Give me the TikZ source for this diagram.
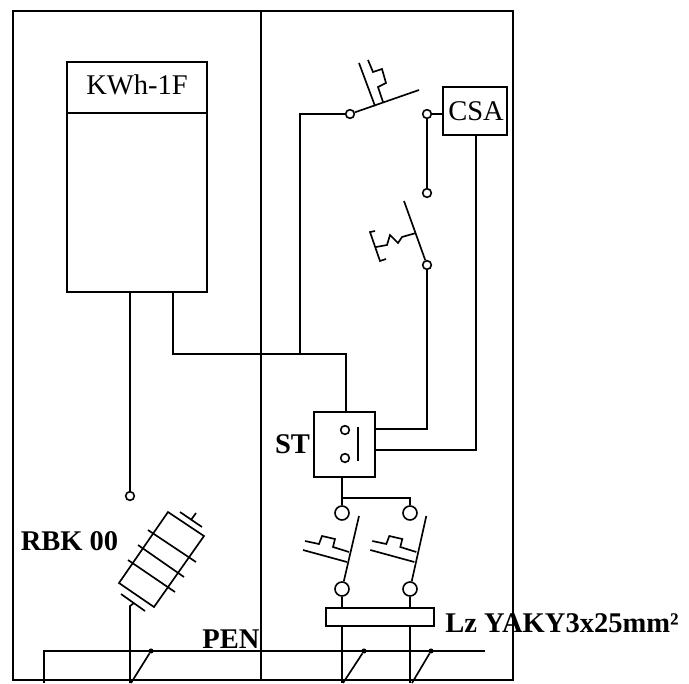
\documentclass[tikz,border=0pt]{standalone}
\usepackage{fontspec}
\setmainfont{Liberation Serif}
\tikzset{
  wire/.style={line width=1.25pt},
  thinwire/.style={line width=1.05pt},
  frameline/.style={line width=1.5pt},
  blockbox/.style={draw, line width=1.35pt, inner sep=0pt},
  smallterm/.style={circle, draw, fill=white, line width=1.2pt, inner sep=0pt, minimum size=6.5pt},
  bigterm/.style={circle, draw, fill=white, line width=1.2pt, inner sep=0pt, minimum size=10.5pt},
  dotterm/.style={circle, fill=black, inner sep=0pt, minimum size=3.8pt},
  plainlabel/.style={inner sep=0pt, anchor=base, font=\fontsize{21.4}{24}\selectfont},
  boldlabel/.style={inner sep=0pt, anchor=base, font=\fontsize{21.4}{24}\selectfont\bfseries}
}
\begin{document}
\begin{tikzpicture}[x=0.75pt, y=-0.75pt]
    \useasboundingbox (0,0) rectangle (689,683);

    % Define nodes
    \node[blockbox, minimum width=104.6pt, minimum height=37.9pt] (kwh) at (137,87.3) {};
    \node[plainlabel] (kwhtext) at (137,94) {KWh-1F};
    \node[blockbox, minimum width=104.6pt, minimum height=134.3pt] (meter) at (137,202.2) {};
    \node[blockbox, minimum width=48pt, minimum height=36pt] (csa) at (475,111) {};
    \node[plainlabel] (csatext) at (476,120) {CSA};
    \node[blockbox, minimum width=45.75pt, minimum height=48.75pt] (st) at (344.5,444.5) {};
    \node[blockbox, minimum width=81pt, minimum height=13.5pt] (lz) at (380,617) {};

    % Terminals
    \node[smallterm] (t1) at (350,114) {};
    \node[smallterm] (t2) at (427,114) {};
    \node[smallterm] (t3) at (427,193) {};
    \node[smallterm] (t4) at (427,265) {};
    \node[smallterm] (t5) at (130,496) {};
    \node[smallterm] (s1) at (345,430) {};
    \node[smallterm] (s2) at (345,458) {};
    \node[bigterm] (b1) at (342,513) {};
    \node[bigterm] (b2) at (410,513) {};
    \node[bigterm] (b3) at (342,589) {};
    \node[bigterm] (b4) at (410,589) {};
    \node[dotterm] (d1) at (151,651) {};
    \node[dotterm] (d2) at (364,651) {};
    \node[dotterm] (d3) at (431,651) {};

    % Labels
    \node[boldlabel] (rbk) at (69.5,550) {RBK 00};
    \node[boldlabel] (pen) at (231,648) {PEN};
    \node[boldlabel] (sttext) at (292.5,453) {ST};
    \node[boldlabel, anchor=base west] (lztext) at (445,632) {Lz YAKY3x25mm²};

    % Free ends of the wires
    \coordinate (j1) at (173,354);
    \coordinate (j2) at (300,354);
    \coordinate (j3) at (346,354);
    \coordinate (j4) at (342,498);
    \coordinate (j5) at (410,498);
    \coordinate (j6) at (427,429);
    \coordinate (j7) at (476,450);
    \coordinate (pa) at (44,651);
    \coordinate (pb) at (485,651);

    % Outer frame and middle line
    \draw[frameline] (13,11) rectangle (513,680);
    \draw[frameline] (261,11) -- (261,680);

    % Wires
    \draw[wire] (meter.south -| t5) -- (t5);
    \draw[wire] (meter.south -| j1) -- (j1) -- (j3) -- (st.north -| j3);
    \draw[wire] (j2) -- (j2 |- t1) -- (t1);
    \draw[wire] (t2) -- (csa.west |- t2);
    \draw[wire] (t2) -- (t3);
    \draw[wire] (t4) -- (j6) -- (st.east |- j6);
    \draw[wire] (csa.south -| j7) -- (j7) -- (st.east |- j7);
    \draw[wire] (st.south -| j4) -- (j4) -- (b1);
    \draw[wire] (j4) -- (j5) -- (b2);
    \draw[wire] (b3) -- (lz.north -| b3);
    \draw[wire] (b4) -- (lz.north -| b4);
    \draw[wire] (lz.south -| b3) -- (342,683);
    \draw[wire] (lz.south -| b4) -- (410,683);

    % PEN rail and its tappings
    \draw[thinwire] (44,683) -- (pa) -- (pb);
    \draw[wire] (d1) -- (131,683);
    \draw[wire] (d2) -- (343,683);
    \draw[wire] (d3) -- (412,683);

    % Contact inside ST
    \draw[wire] (358,427) -- (358,461);

    % Top switch
    \draw[wire] (t1) -- (419,90);
    \draw[wire] (359,63) -- (375,106);
    \draw[wire] (368,60) -- (373,72) -- (382,69) -- (386,83) -- (378,87) -- (383,102);

    % Second switch
    \draw[wire] (404,201) -- (t4);
    \draw[wire] (416,233) -- (402,237) -- (398,243) -- (390,235) -- (387,245) -- (376,247);
    \draw[wire] (386,259) -- (380,261) -- (370,232) -- (375,231);

    % Two lower switches
    \foreach \dx/\ta in {0/b3, 67.3/b4} {
      \draw[wire] (359+\dx,516) -- (\ta);
      \draw[wire] (303+\dx,550) -- (347+\dx,562);
      \draw[wire] (305+\dx,541) -- (319+\dx,544) -- (322+\dx,536) -- (335+\dx,539) -- (333+\dx,547) -- (349+\dx,552);
    }

    % Surge arrester
    \draw[wire] (168,512) -- (204,536) -- (154,607) -- (119,583) -- cycle;
    \draw[wire] (148,530) -- (196,562);
    \draw[wire] (138,545) -- (184,577);
    \draw[wire] (128,560) -- (175,592);
    \draw[wire] (180,512) -- (202,527);
    \draw[wire] (191,520) -- (196,513);
    \draw[wire] (121,594) -- (145,611);
    \draw[wire] (134,603) -- (130,606) -- (130,683);
\end{tikzpicture}
\end{document}
